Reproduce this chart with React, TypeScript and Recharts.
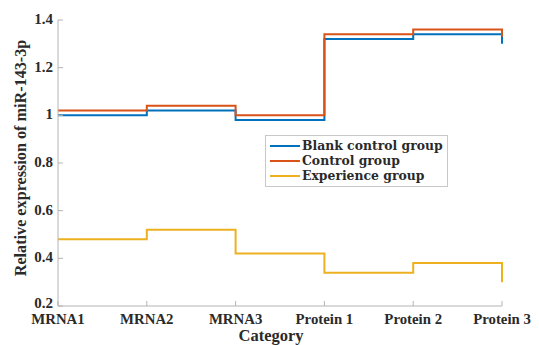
import { LineChart, Line, XAxis, YAxis, Legend } from 'recharts';

const categories = ['MRNA1', 'MRNA2', 'MRNA3', 'Protein 1', 'Protein 2', 'Protein 3'];
const blankControl = [1.0, 1.02, 0.98, 1.32, 1.34, 1.3];
const controlGroup = [1.02, 1.04, 1.0, 1.34, 1.36, 1.33];
const experienceGroup = [0.48, 0.52, 0.42, 0.34, 0.38, 0.3];
const yTicks = [0.2, 0.4, 0.6, 0.8, 1, 1.2, 1.4];

const seriesInfo = [
  { key: 'blank', name: 'Blank control group', color: '#0072BD' },
  { key: 'control', name: 'Control group', color: '#D95319' },
  { key: 'experience', name: 'Experience group', color: '#EDB120' },
];

const data = categories.map((c, i) => ({
  category: c,
  blank: blankControl[i],
  control: controlGroup[i],
  experience: experienceGroup[i],
}));

// plot box (px inside the svg)
const PL = 58;
const PR = 502;
const PT = 20;
const PB = 306;
const FONT = 'Liberation Serif, DejaVu Serif, serif';
const LEGEND_FONT = 'DejaVu Serif, Liberation Serif, serif';
const AXIS = '#b4b4b4';
const TXT = '#2a2a2a';
const txtStyle = { fontFamily: FONT, fontWeight: 'bold' as const };

const fmtY = (v: number) => String(Number(v.toFixed(1)));

const BottomTick = (props: any) => {
  const { x, payload } = props;
  return (
    <g>
      <line x1={x} x2={x} y1={PB} y2={PB - 5} stroke={AXIS} />
      <text x={x} y={PB + 18} textAnchor="middle" style={{ ...txtStyle, fontSize: 14.8 }} fill={TXT}>
        {payload.value}
      </text>
    </g>
  );
};

const TopTick = (props: any) => {
  const { x } = props;
  return <line x1={x} x2={x} y1={PT} y2={PT + 5} stroke={AXIS} />;
};

const LeftTick = (props: any) => {
  const { y, payload } = props;
  // lowest label sits a touch higher so it clears the category labels
  const lift = payload.value === yTicks[0] ? 2 : 0;
  return (
    <g>
      <line x1={PL} x2={PL + 5} y1={y} y2={y} stroke={AXIS} />
      <text x={53} y={y + 4 - lift} textAnchor="end" style={{ ...txtStyle, fontSize: 15 }} fill={TXT}>
        {fmtY(payload.value)}
      </text>
    </g>
  );
};

const RightTick = (props: any) => {
  const { y } = props;
  return <line x1={PR} x2={PR - 5} y1={y} y2={y} stroke={AXIS} />;
};

const LegendBox = () => (
  <div
    style={{
      border: '1px solid #c8c8c8',
      background: '#fff',
      padding: '2px 3px 3px 4px',
      fontFamily: LEGEND_FONT,
      fontWeight: 'bold',
      fontSize: 12.4,
      color: TXT,
      lineHeight: '15px',
      width: 174,
    }}
  >
    {seriesInfo.map((s) => (
      <div key={s.key} style={{ display: 'flex', alignItems: 'center', whiteSpace: 'nowrap' }}>
        <span style={{ display: 'inline-block', width: 30, height: 2, background: s.color, marginRight: 2 }} />
        <span>{s.name}</span>
      </div>
    ))}
  </div>
);

export default function App() {
  return (
    <div style={{ position: 'absolute', left: 0, top: 0, background: '#fff' }}>
      <LineChart width={539} height={345} data={data} margin={{ top: PT, right: 539 - PR, bottom: 0, left: 0 }}>
        <XAxis
          dataKey="category"
          stroke={AXIS}
          height={345 - PB}
          tickLine={false}
          tick={<BottomTick />}
          interval={0}
          label={{
            content: () => (
              <text x={271} y={341} textAnchor="middle" style={{ ...txtStyle, fontSize: 16.5 }} fill={TXT}>
                Category
              </text>
            ),
          }}
        />
        <XAxis
          xAxisId="top"
          dataKey="category"
          orientation="top"
          stroke={AXIS}
          height={0}
          tickLine={false}
          tick={<TopTick />}
          interval={0}
        />
        <YAxis
          domain={[0.2, 1.4]}
          ticks={yTicks}
          stroke={AXIS}
          width={PL}
          tickLine={false}
          tick={<LeftTick />}
          interval={0}
          allowDataOverflow
          label={{
            content: () => (
              <text
                x={21}
                y={158}
                transform="rotate(-90 21 158)"
                textAnchor="middle"
                dominantBaseline="central"
                style={{ ...txtStyle, fontSize: 16.2 }}
                fill={TXT}
              >
                Relative expression of miR-143-3p
              </text>
            ),
          }}
        />
        <YAxis
          yAxisId="right"
          orientation="right"
          domain={[0.2, 1.4]}
          ticks={yTicks}
          stroke={AXIS}
          width={0}
          tickLine={false}
          tick={<RightTick />}
          interval={0}
        />
        <Legend
          layout="vertical"
          align="center"
          verticalAlign="middle"
          content={<LegendBox />}
          wrapperStyle={{ left: 265, top: 135, width: 'auto', height: 'auto' }}
        />
        {seriesInfo.map((s) => (
          <Line
            key={s.key}
            type="stepAfter"
            dataKey={s.key}
            name={s.name}
            stroke={s.color}
            strokeWidth={2}
            dot={false}
            activeDot={false}
            isAnimationActive={false}
          />
        ))}
      </LineChart>
    </div>
  );
}
